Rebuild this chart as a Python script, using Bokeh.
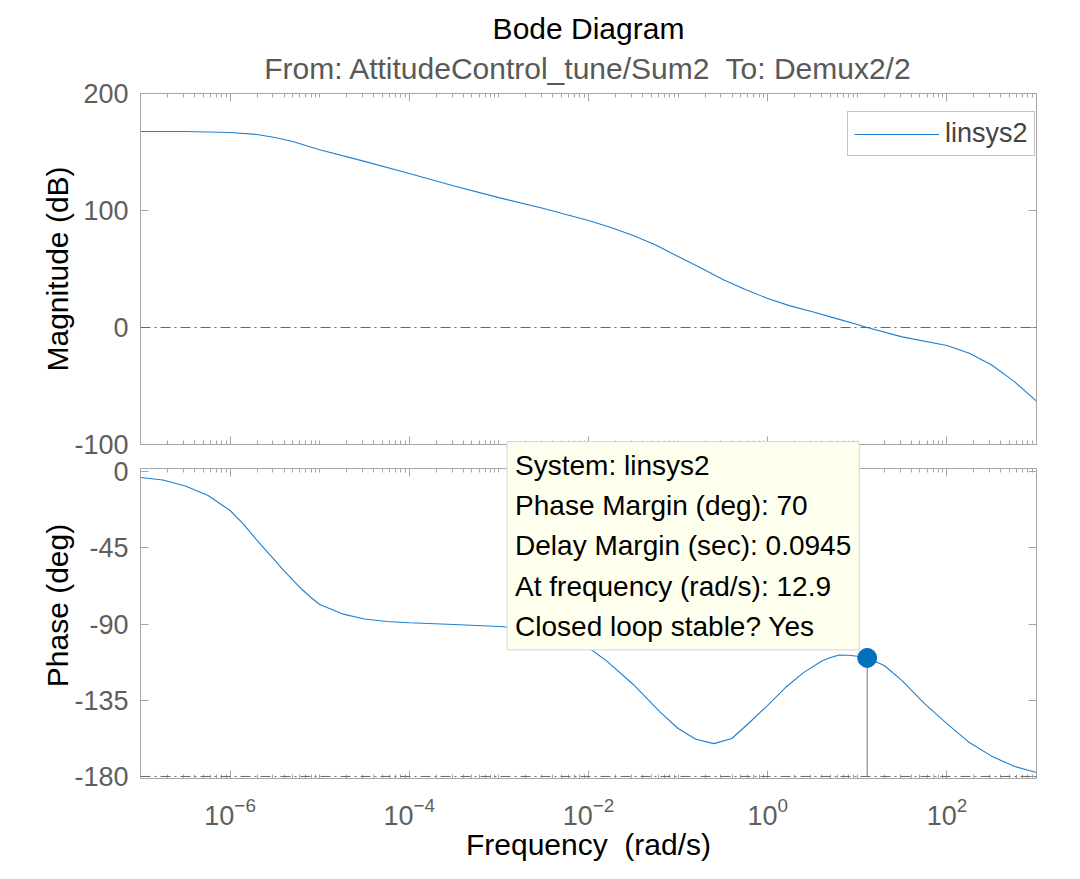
from bokeh.plotting import figure
from bokeh.models import (Range1d, FixedTicker, LogAxis, LinearAxis, Span, Label,
                          Legend, LegendItem, Title, CustomJSTickFormatter)
from bokeh.layouts import column
from bokeh.embed import file_html
from bokeh.resources import INLINE

# ---------------- data ----------------
mag_freq = [1e-7, 3.16e-7, 1e-6, 2e-6, 3.16e-6, 5e-6, 1e-5, 3.16e-5, 1e-4, 3.16e-4,
            1e-3, 3.16e-3, 1e-2, 1.78e-2, 3.16e-2, 5.62e-2, 1e-1, 1.78e-1, 3.16e-1,
            5.62e-1, 1.0, 1.78, 3.16, 5.62, 10.0, 12.9, 31.6, 100.0, 178.0, 316.0,
            562.0, 1000.0]
mag_db = [167.5, 167.5, 166.7, 165.0, 162.4, 159.0, 152.0, 142.0, 131.6, 121.0,
          111.0, 101.7, 91.5, 85.5, 78.6, 70.5, 60.7, 51.0, 41.0,
          32.5, 24.8, 18.5, 13.5, 8.0, 2.5, 0.0, -8.0, -15.4, -22.0, -32.0,
          -46.0, -63.0]

phase_freq = [1e-7, 1.78e-7, 3.16e-7, 5.62e-7, 1e-6, 1.41e-6, 2e-6, 2.51e-6, 3.16e-6,
              3.98e-6, 5e-6, 6.31e-6, 7.94e-6, 1e-5, 1.78e-5, 3.16e-5, 5.62e-5, 1e-4,
              3.16e-4, 1e-3, 1.78e-3, 3.16e-3, 5.62e-3, 1e-2, 1.58e-2, 3.16e-2,
              6.31e-2, 1e-1, 1.58e-1, 2.51e-1, 3.98e-1, 6.31e-1, 1.0, 1.58, 2.51,
              3.98, 5.01, 6.31, 7.94, 10.0, 12.9, 20.0, 31.6, 56.2, 100.0, 178.0,
              316.0, 562.0, 1000.0]
phase_deg = [-3.5, -5.0, -8.5, -14.0, -23.0, -31.0, -40.7, -46.5, -52.5,
             -58.5, -64.0, -69.5, -74.2, -78.5, -84.0, -87.0, -88.5, -89.3,
             -90.3, -91.5, -92.3, -94.5, -98.0, -104.0, -111.6, -125.7,
             -142.0, -151.7, -158.0, -160.6, -157.6, -148.0, -138.0, -127.5, -118.7,
             -112.0, -109.8, -108.3, -108.4, -109.0, -110.0, -114.5, -123.4, -137.0,
             -148.8, -160.0, -168.0, -174.0, -177.7]

system_name = "linsys2"
pm_deg = 70
dm_sec = 0.0945
pm_freq = 12.9
pm_phase = -110.0
stable = "Yes"

x_major = [1e-6, 1e-4, 1e-2, 1.0, 1e2]
mag_ticks = [-100, 0, 100, 200]
phase_ticks = [-180, -135, -90, -45, 0]

title_text = "Bode Diagram"
subtitle_text = "From: AttitudeControl_tune/Sum2\u00a0 To: Demux2/2"
x_label = "Frequency\u00a0 (rad/s)"

# ---------------- layout / styles ----------------
FONT = "Liberation Sans"
LINE_COL = "#1f7fcf"
FRAME_COL = "#a6a6a6"
TICKLAB_COL = "#5e5e5e"
X_LIMS = (1e-7, 1e3)
MAG_LIMS = (-100, 200)
PHASE_LIMS = (-181.2, 1.8)
PHASE_EXT_TOP = 23.05   # invisible headroom so the data tip can rise above the panel

minor = [k * 10.0 ** n for n in range(-7, 3) for k in range(1, 10)
         if not (k == 1 and (10.0 ** n) in x_major)] + [1e3]

blank = CustomJSTickFormatter(code="return ''")
intfmt = CustomJSTickFormatter(code="return tick.toFixed(0)")


def style_axis(ax, labels=True, minor_on=True):
    ax.axis_line_color = FRAME_COL
    ax.major_tick_line_color = FRAME_COL
    ax.minor_tick_line_color = FRAME_COL if minor_on else None
    ax.major_tick_in = 8
    ax.major_tick_out = 0
    ax.minor_tick_in = 4
    ax.minor_tick_out = 0
    ax.major_label_text_font = FONT
    ax.major_label_text_color = TICKLAB_COL
    ax.axis_label_text_font = FONT
    ax.axis_label_text_font_style = "normal"
    ax.axis_label_text_color = "black"
    ax.axis_label_text_font_size = "30px"
    if labels:
        ax.major_label_text_font_size = "27px"
    else:
        ax.formatter = blank
        ax.major_label_text_font_size = "0px"
        ax.major_label_standoff = 0


def base_fig(height, yr, border_top, border_bottom):
    p = figure(width=1064, height=height, x_axis_type="log",
               x_range=Range1d(*X_LIMS), y_range=yr,
               output_backend="svg", toolbar_location=None, title=None,
               min_border_left=140, min_border_right=28,
               min_border_top=border_top, min_border_bottom=border_bottom)
    p.grid.visible = False
    return p


# ---------------- magnitude panel ----------------
p1 = base_fig(463, Range1d(*MAG_LIMS), 93, 19)
p1.outline_line_color = FRAME_COL
bx1 = p1.below[0]
ly1 = p1.left[0]
bx1.ticker = FixedTicker(ticks=x_major, minor_ticks=minor)
style_axis(bx1, labels=False)
ly1.ticker = FixedTicker(ticks=mag_ticks)
ly1.formatter = intfmt
style_axis(ly1, labels=True, minor_on=False)
ly1.axis_label = "Magnitude (dB)"
ly1.major_label_standoff = 12
ly1.axis_label_standoff = -3

# top mirror axis; it also carries the grey subtitle line
top1 = LogAxis(ticker=FixedTicker(ticks=x_major, minor_ticks=minor))
style_axis(top1, labels=False)
top1.axis_label = subtitle_text
top1.axis_label_text_color = "#595959"
top1.axis_label_standoff = 9
p1.add_layout(top1, "above")
right1 = LinearAxis(ticker=FixedTicker(ticks=mag_ticks))
style_axis(right1, labels=False, minor_on=False)
p1.add_layout(right1, "right")

p1.add_layout(Span(location=0, dimension="width", line_color="#666666",
                   line_dash="10 4 2 4", line_width=1))
r1 = p1.line(mag_freq, mag_db, line_color=LINE_COL, line_width=1.1)

legend = Legend(items=[LegendItem(label=system_name, renderers=[r1])],
                location=(707, 288), padding=6, glyph_width=85, label_standoff=6,
                label_text_font=FONT, label_text_font_size="27px",
                border_line_color="#8c8c8c", border_line_width=1,
                background_fill_color="white", margin=0)
p1.add_layout(legend)

p1.add_layout(Title(text=title_text, align="center", text_font=FONT,
                    text_font_size="30px", text_font_style="normal",
                    text_color="black", standoff=8), "above")

# ---------------- phase panel ----------------
p2 = base_fig(449, Range1d(PHASE_LIMS[0], PHASE_EXT_TOP), 10, 93)
p2.margin = (-41, 0, 0, 0)
p2.border_fill_alpha = 0
p2.background_fill_alpha = 0
p2.outline_line_color = None

bx2 = p2.below[0]
bx2.ticker = FixedTicker(ticks=x_major, minor_ticks=minor)
style_axis(bx2, labels=True)
bx2.axis_label = x_label
bx2.major_label_standoff = 18
bx2.axis_label_standoff = 0

ly2 = p2.left[0]
ly2.ticker = FixedTicker(ticks=phase_ticks)
ly2.formatter = intfmt
ly2.bounds = PHASE_LIMS
style_axis(ly2, labels=True, minor_on=False)
ly2.axis_label = "Phase (deg)"
ly2.major_label_standoff = 12
ly2.axis_label_standoff = -3

top2 = LogAxis(ticker=FixedTicker(ticks=x_major, minor_ticks=minor),
               fixed_location=PHASE_LIMS[1])
style_axis(top2, labels=False)
p2.add_layout(top2, "above")
right2 = LinearAxis(ticker=FixedTicker(ticks=phase_ticks), bounds=PHASE_LIMS)
style_axis(right2, labels=False, minor_on=False)
p2.add_layout(right2, "right")

p2.add_layout(Span(location=-180, dimension="width", line_color="#666666",
                   line_dash="10 4 2 4", line_width=1))
p2.line(phase_freq, phase_deg, line_color=LINE_COL, line_width=1.1)
p2.segment(x0=[pm_freq], y0=[pm_phase], x1=[pm_freq], y1=[-180],
           line_color="#8c8c8c", line_width=1.2)
p2.scatter([pm_freq], [pm_phase], size=19, fill_color="#0072BD",
           line_color="#0072BD")

tip = "\n".join([
    f"System: {system_name}",
    f"Phase Margin (deg): {pm_deg}",
    f"Delay Margin (sec): {dm_sec}",
    f"At frequency (rad/s): {pm_freq}",
    f"Closed loop stable? {stable}",
])
p2.add_layout(Label(x=pm_freq, y=pm_phase, x_offset=-8, y_offset=8,
                    anchor="bottom_right", text=tip, text_font=FONT,
                    text_font_size="28px", text_color="black",
                    text_line_height=1.3, padding=8,
                    background_fill_color="#ffffee",
                    border_line_color="#d4d4d4", border_line_width=1))

layout = column(p1, p2)
open("out.html", "w").write(file_html(layout, INLINE))
